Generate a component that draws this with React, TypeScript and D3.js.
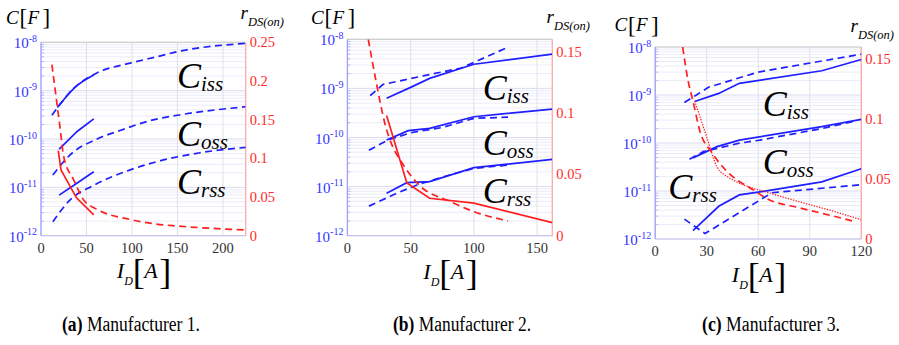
import React from "react";
import * as d3 from "d3";

const FONT = "Liberation Serif";
const BLUE = "#1f1fff";
const RED = "#ff1f1f";

// ---------- (a) Manufacturer 1 ----------
const aTicksX = [0, 50, 100, 150, 200];
const aTicksR = [0, 0.05, 0.1, 0.15, 0.2, 0.25];
const aCissSolidI = [18, 25, 37, 58];
const aCissSolidC = [4.5e-10, 6.5e-10, 1.15e-9, 2.1e-9];
const aCissDashI = [12, 36, 61, 98, 127, 150, 225];
const aCissDashC = [3.1e-10, 1.12e-9, 2.3e-9, 3.7e-9, 5.0e-9, 6.4e-9, 9.5e-9];
const aCossSolidI = [20, 40, 58];
const aCossSolidC = [6.2e-11, 1.45e-10, 2.6e-10];
const aCossDashI = [13, 32, 61, 87, 120, 150, 225];
const aCossDashC = [1.8e-11, 4.7e-11, 9.9e-11, 1.5e-10, 2.4e-10, 3.1e-10, 4.65e-10];
const aCrssSolidI = [20, 39, 58];
const aCrssSolidC = [6.9e-12, 1.2e-11, 2.1e-11];
const aCrssDashI = [13, 32, 58, 98, 125, 175, 225];
const aCrssDashC = [1.95e-12, 5.5e-12, 1.1e-11, 2.3e-11, 3.3e-11, 5.2e-11, 6.7e-11];
const aRdsSolidI = [19, 22, 39, 58];
const aRdsSolidR = [0.11, 0.085, 0.049, 0.027];
const aRdsDashI = [12, 21, 25, 36, 47, 60, 98, 127, 150, 225];
const aRdsDashR = [0.221, 0.139, 0.102, 0.072, 0.046, 0.035, 0.021, 0.015, 0.0125, 0.0074];

// ---------- (b) Manufacturer 2 ----------
const bTicksX = [0, 50, 100, 150];
const bTicksR = [0, 0.05, 0.1, 0.15];
const bCissSolidI = [31, 50, 65, 100, 162];
const bCissSolidC = [6.3e-10, 1.05e-9, 1.6e-9, 3.1e-9, 5.0e-9];
const bCissDashI = [18, 28, 60, 90, 127];
const bCissDashC = [7.1e-10, 1.2e-9, 1.8e-9, 2.6e-9, 6.9e-9];
const bCossSolidI = [31, 48, 65, 100, 162];
const bCossSolidC = [8.9e-11, 1.38e-10, 1.54e-10, 2.65e-10, 3.8e-10];
const bCossDashI = [17, 32, 50, 75, 100, 127];
const bCossDashC = [5.5e-11, 8.9e-11, 1.25e-10, 1.6e-10, 2.45e-10, 2.6e-10];
const bCrssSolidI = [31, 47, 65, 100, 162];
const bCrssSolidC = [7.3e-12, 1.2e-11, 1.26e-11, 2.43e-11, 3.6e-11];
const bCrssDashI = [17, 40, 55, 80, 100, 127];
const bCrssDashC = [4.0e-12, 7.5e-12, 1.08e-11, 1.7e-11, 2.35e-11, 2.75e-11];
const bRdsSolidI = [31, 47, 65, 100, 162];
const bRdsSolidR = [0.098, 0.043, 0.0305, 0.0265, 0.0106];
const bRdsDashI = [16.5, 23, 29.5, 36, 41.5, 57, 81, 99, 127];
const bRdsDashR = [0.16, 0.124, 0.092, 0.072, 0.062, 0.041, 0.028, 0.02, 0.012];

// ---------- (c) Manufacturer 3 ----------
const cTicksX = [0, 30, 60, 90, 120];
const cTicksR = [0, 0.05, 0.1, 0.15];
const cCissSolidI = [23, 37, 49, 97, 120];
const cCissSolidC = [7.3e-10, 1.08e-9, 1.75e-9, 3.2e-9, 5.5e-9];
const cCissDashI = [17, 24, 31, 60, 120];
const cCissDashC = [7.0e-10, 1.0e-9, 1.45e-9, 3.0e-9, 7.1e-9];
const cCossSolidI = [22, 36, 49, 97, 120];
const cCossSolidC = [4.9e-11, 8.4e-11, 1.15e-10, 2.2e-10, 3.1e-10];
const cCossDashI = [20, 28, 49, 61, 97, 115];
const cCossDashC = [4.6e-11, 6.6e-11, 9.9e-11, 1.15e-10, 2.0e-10, 2.8e-10];
const cCrssSolidI = [22, 37, 49, 63, 97, 120];
const cCrssSolidC = [1.5e-12, 4.8e-12, 8.3e-12, 9.8e-12, 1.55e-11, 2.9e-11];
const cCrssDashI = [17, 29, 68, 120];
const cCrssDashC = [2.6e-12, 1.3e-12, 9.2e-12, 1.35e-11];
const cRdsDashI = [16, 19, 22, 26, 33, 42, 57, 66, 84, 104, 115];
const cRdsDashR = [0.16, 0.133, 0.115, 0.09, 0.072, 0.056, 0.041, 0.033, 0.026, 0.019, 0.015];
const cRdsDotI = [23, 30, 36, 42, 50, 65, 84, 104, 120];
const cRdsDotR = [0.115, 0.085, 0.06, 0.052, 0.046, 0.039, 0.031, 0.023, 0.016];

const decades = [-8, -9, -10, -11, -12];
const capLetters = ["a", "b", "c"];
const capNames = ["Manufacturer 1.", "Manufacturer 2.", "Manufacturer 3."];

type Kind = "solid" | "dash" | "dot";
type Series = { xs: number[]; ys: number[]; right: boolean; kind: Kind; smooth: boolean };
type BigLabel = { sub: string; x: number; y: number };
type PanelSpec = {
  id: string;
  box: [number, number, number, number];
  xDomain: [number, number];
  xTicks: number[];
  rDomain: [number, number];
  rTicks: number[];
  series: Series[];
  labels: BigLabel[];
  cf: [number, number];
  rds: [number, number];
  idY: number;
  capX: number;
  cap: number;
};

const s = (xs: number[], ys: number[], kind: Kind, right = false, smooth = false): Series => ({
  xs, ys, kind, right, smooth,
});

const panels: PanelSpec[] = [
  {
    id: "a",
    box: [41, 245.7, 42.3, 235.7],
    xDomain: [0, 225],
    xTicks: aTicksX,
    rDomain: [0, 0.25],
    rTicks: aTicksR,
    series: [
      s(aCissDashI, aCissDashC, "dash", false, true),
      s(aCossDashI, aCossDashC, "dash", false, true),
      s(aCrssDashI, aCrssDashC, "dash", false, true),
      s(aCissSolidI, aCissSolidC, "solid", false, true),
      s(aCossSolidI, aCossSolidC, "solid"),
      s(aCrssSolidI, aCrssSolidC, "solid"),
      s(aRdsDashI, aRdsDashR, "dash", true, true),
      s(aRdsSolidI, aRdsSolidR, "solid", true),
    ],
    labels: [
      { sub: "iss", x: 177, y: 88 },
      { sub: "oss", x: 177, y: 146 },
      { sub: "rss", x: 177, y: 194 },
    ],
    cf: [6, 23.5],
    rds: [240.5, 19],
    idY: 278,
    capX: 131,
    cap: 0,
  },
  {
    id: "b",
    box: [347.4, 552.3, 39.3, 235.7],
    xDomain: [0, 162],
    xTicks: bTicksX,
    rDomain: [0, 0.16],
    rTicks: bTicksR,
    series: [
      s(bCissDashI, bCissDashC, "dash"),
      s(bCossDashI, bCossDashC, "dash"),
      s(bCrssDashI, bCrssDashC, "dash"),
      s(bCissSolidI, bCissSolidC, "solid"),
      s(bCossSolidI, bCossSolidC, "solid"),
      s(bCrssSolidI, bCrssSolidC, "solid"),
      s(bRdsDashI, bRdsDashR, "dash", true, true),
      s(bRdsSolidI, bRdsSolidR, "solid", true),
    ],
    labels: [
      { sub: "iss", x: 482.7, y: 100 },
      { sub: "oss", x: 482.7, y: 155 },
      { sub: "rss", x: 482.7, y: 203 },
    ],
    cf: [311, 23.5],
    rds: [546.5, 23],
    idY: 279,
    capX: 462,
    cap: 1,
  },
  {
    id: "c",
    box: [655.2, 861.3, 47, 239],
    xDomain: [0, 120],
    xTicks: cTicksX,
    rDomain: [0, 0.16],
    rTicks: cTicksR,
    series: [
      s(cCissDashI, cCissDashC, "dash"),
      s(cCossDashI, cCossDashC, "dash"),
      s(cCrssDashI, cCrssDashC, "dash"),
      s(cCissSolidI, cCissSolidC, "solid"),
      s(cCossSolidI, cCossSolidC, "solid"),
      s(cCrssSolidI, cCrssSolidC, "solid"),
      s(cRdsDashI, cRdsDashR, "dash", true, true),
      s(cRdsDotI, cRdsDotR, "dot", true, true),
    ],
    labels: [
      { sub: "iss", x: 762.7, y: 116 },
      { sub: "oss", x: 762.7, y: 174 },
      { sub: "rss", x: 668.3, y: 199 },
    ],
    cf: [614.5, 31],
    rds: [850.5, 32],
    idY: 282,
    capX: 771,
    cap: 2,
  },
];

function Panel({ p }: { p: PanelSpec }) {
  const [L, R, T, B] = p.box;
  const x = d3.scaleLinear().domain(p.xDomain).range([L, R]);
  const yC = d3.scaleLog().domain([1e-12, 1e-8]).range([B, T]);
  const yR = d3.scaleLinear().domain(p.rDomain).range([B, T]);

  const minors: number[] = [];
  for (let e = -12; e < -8; e++) for (let k = 2; k <= 9; k++) minors.push(k * Math.pow(10, e));

  const cx = (L + R) / 2;
  const clipId = `clip-${p.id}`;

  return (
    <g>
      <defs>
        <clipPath id={clipId}>
          <rect x={L} y={T} width={R - L} height={B - T} />
        </clipPath>
      </defs>
      {/* grid */}
      {minors.map((v, i) => (
        <line key={`m${i}`} x1={L} x2={R} y1={yC(v)} y2={yC(v)} stroke="#e6e6f8" strokeWidth={0.8} />
      ))}
      {decades.map((d) => (
        <line key={`d${d}`} x1={L} x2={R} y1={yC(Math.pow(10, d))} y2={yC(Math.pow(10, d))} stroke="#d6d6ee" strokeWidth={0.9} />
      ))}
      {p.xTicks.map((t) => (
        <line key={`g${t}`} x1={x(t)} x2={x(t)} y1={T} y2={B} stroke="#dcdce8" strokeWidth={0.9} />
      ))}
      {/* left minor ticks */}
      {minors.map((v, i) => (
        <line key={`lt${i}`} x1={L} x2={L + 3} y1={yC(v)} y2={yC(v)} stroke="#a8a8ff" strokeWidth={0.8} />
      ))}
      {/* frame */}
      <line x1={L} x2={R} y1={T} y2={T} stroke="#cfcfcf" strokeWidth={1.2} />
      <line x1={L} x2={R} y1={B} y2={B} stroke="#c4c4f0" strokeWidth={1.2} />
      <line x1={L} x2={L} y1={T} y2={B} stroke="#a0a0ff" strokeWidth={1.3} />
      <line x1={R} x2={R} y1={T} y2={B} stroke="#ffa8a8" strokeWidth={1.3} />

      {/* curves */}
      <g clipPath={`url(#${clipId})`}>
        {p.series.map((sr, i) => {
          const pts: [number, number][] = sr.xs.map((xv, j) => [
            x(xv),
            sr.right ? yR(sr.ys[j]) : yC(sr.ys[j]),
          ]);
          const gen = d3.line().curve(sr.smooth ? d3.curveMonotoneX : d3.curveLinear);
          const color = sr.right ? RED : BLUE;
          const dash = sr.kind === "dash" ? "7,4.5" : sr.kind === "dot" ? "1.3,1.4" : undefined;
          return (
            <path
              key={i}
              d={gen(pts) || ""}
              fill="none"
              stroke={color}
              strokeWidth={sr.kind === "dot" ? 1.3 : 1.7}
              strokeDasharray={dash}
            />
          );
        })}
      </g>

      {/* left tick labels */}
      {decades.map((d) => (
        <text key={`ll${d}`} x={L - 4} y={yC(Math.pow(10, d)) + 6} textAnchor="end" fill="#3535ff" fontSize={15} fontFamily={FONT}>
          <tspan>10</tspan>
          <tspan dy={-6.5} fontSize={10}>{String(d)}</tspan>
        </text>
      ))}
      {/* right tick labels */}
      {p.rTicks.map((t) => (
        <text key={`rl${t}`} x={R + 4} y={yR(t) + 5} fill="#ff2a2a" fontSize={14.5} fontFamily={FONT}>
          {String(t)}
        </text>
      ))}
      {/* bottom tick labels */}
      {p.xTicks.map((t) => (
        <text key={`bl${t}`} x={x(t)} y={B + 17} textAnchor="middle" fill="#333" fontSize={14.5} fontFamily={FONT}>
          {String(t)}
        </text>
      ))}

      {/* curve labels */}
      {p.labels.map((lb) => (
        <text key={lb.sub} x={lb.x} y={lb.y} fill="#000" fontFamily={FONT} fontStyle="italic">
          <tspan fontSize={36}>C</tspan>
          <tspan fontSize={21} dy={3}>{lb.sub}</tspan>
        </text>
      ))}

      {/* C[F] */}
      <text x={p.cf[0]} y={p.cf[1]} fontSize={19} fontStyle="italic" fontFamily={FONT}>C</text>
      <text x={p.cf[0] + 13.5} y={p.cf[1] + 1.5} fontSize={23} fontFamily={FONT}>[</text>
      <text x={p.cf[0] + 21.5} y={p.cf[1]} fontSize={19} fontStyle="italic" fontFamily={FONT}>F</text>
      <text x={p.cf[0] + 36.5} y={p.cf[1] + 1.5} fontSize={23} fontFamily={FONT}>]</text>

      {/* r_DS(on) */}
      <text x={p.rds[0]} y={p.rds[1]} fill="#000" fontStyle="italic" fontFamily={FONT}>
        <tspan fontSize={19}>r</tspan>
        <tspan fontSize={12.5} dy={6.5}>DS(on)</tspan>
      </text>

      {/* I_D[A] */}
      <text x={cx - 26.5} y={p.idY} fontSize={22} fontStyle="italic" fontFamily={FONT}>I</text>
      <text x={cx - 19} y={p.idY + 7} fontSize={12} fontStyle="italic" fontFamily={FONT}>D</text>
      <text x={cx - 10.5} y={p.idY + 6} fontSize={36} fontFamily={FONT}>[</text>
      <text x={cx + 1} y={p.idY} fontSize={22} fontStyle="italic" fontFamily={FONT}>A</text>
      <text x={cx + 16} y={p.idY + 6} fontSize={36} fontFamily={FONT}>]</text>

      {/* caption */}
      <text
        x={p.capX - 69}
        y={331}
        fontSize={20}
        fill="#000"
        fontFamily={FONT}
        textLength={138}
        lengthAdjust="spacingAndGlyphs"
      >
        <tspan fontWeight="bold">({capLetters[p.cap]})</tspan>
        <tspan> {capNames[p.cap]}</tspan>
      </text>
    </g>
  );
}

export default function App() {
  return (
    <svg
      width={899}
      height={345}
      viewBox="0 0 899 345"
      style={{ position: "absolute", left: 0, top: 0, background: "#fff" }}
    >
      <rect x={0} y={0} width={899} height={345} fill="#fff" />
      {panels.map((p) => (
        <Panel key={p.id} p={p} />
      ))}
    </svg>
  );
}
